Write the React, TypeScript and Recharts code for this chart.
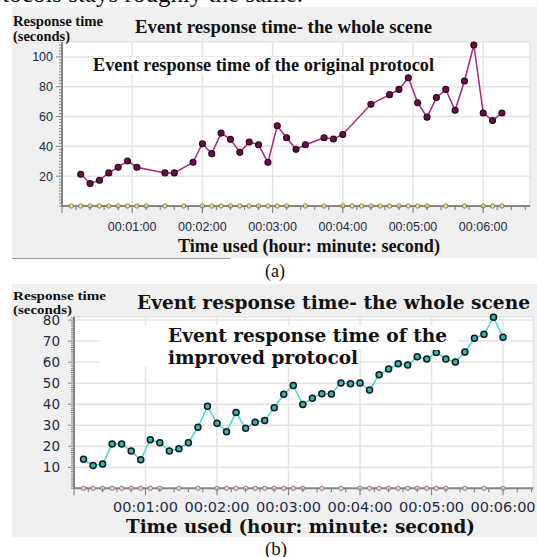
import { CartesianGrid, Line, LineChart, XAxis, YAxis } from "recharts";

// (a) original protocol: seconds elapsed / response time (s)
const secondsA = [16, 24, 32, 40, 48, 56, 64, 88, 96, 112, 120, 128, 136, 144, 152, 160, 168, 176, 184, 192, 200, 208, 224, 232, 240, 264, 280, 288, 296, 304, 312, 320, 328, 336, 344, 352, 360, 368, 376];
const responseA = [21.3, 15.1, 17.3, 22.2, 26, 30.2, 26, 22.2, 22.2, 29.3, 41.8, 35.1, 48.9, 44.7, 36, 42.9, 41.1, 29.3, 53.8, 45.8, 38, 41.1, 45.8, 44.9, 48, 68.2, 74.7, 78.2, 86, 69.3, 59.6, 72.7, 78.2, 64.2, 83.8, 108, 62.4, 57.3, 62.4];

// (b) improved protocol
const secondsB = [8, 16, 24, 32, 40, 48, 56, 64, 72, 80, 88, 96, 104, 112, 120, 128, 136, 144, 152, 160, 168, 176, 184, 192, 200, 208, 216, 224, 232, 240, 248, 256, 264, 272, 280, 288, 296, 304, 312, 320, 328, 336, 344, 352, 360];
const responseB = [13.8, 10.9, 11.5, 21.1, 21.1, 17.7, 13.6, 23.1, 21.7, 17.7, 18.8, 21.7, 29, 39, 30.9, 26.9, 36.1, 28.5, 31.4, 32.3, 38.3, 44.7, 48.9, 39.9, 42.8, 45, 44.8, 50.1, 49.7, 50.1, 46.7, 54, 56.7, 59.2, 58.6, 62.6, 61.5, 64.6, 61.5, 60, 64.8, 71.3, 73.2, 81.3, 71.8];

// second series sitting on the time axis (value 0)
const axisSecondsA = [8, 16, 24, 32, 40, 48, 56, 64, 72, 88, 104, 120, 128, 136, 144, 152, 160, 168, 176, 184, 192, 208, 224, 240, 248, 256, 264, 272, 280, 288, 296, 304, 312, 328, 344, 360, 368, 376];
const axisSecondsB = [8, 16, 24, 32, 40, 48, 56, 64, 72, 88, 104, 120, 128, 136, 144, 152, 160, 168, 176, 184, 192, 208, 224, 240, 248, 256, 264, 272, 280, 288, 296, 304, 312, 328, 344, 360];

const minuteSeconds = [60, 120, 180, 240, 300, 360];
const minuteLabels = ["00:01:00", "00:02:00", "00:03:00", "00:04:00", "00:05:00", "00:06:00"];
const gridA = [20, 40, 60, 80, 100];
const gridB = [10, 20, 30, 40, 50, 60, 70, 80];

const rowsA = secondsA.map((t, i) => ({ t, v: responseA[i] }));
const rowsB = secondsB.map((t, i) => ({ t, v: responseB[i] }));
const zeroA = axisSecondsA.map((t) => ({ t, v: 0 }));
const zeroB = axisSecondsB.map((t) => ({ t, v: 0 }));

const steps = (step: number, max: number) => Array.from({ length: Math.floor(max / step) + 1 }, (_, i) => i * step);

const tickColor = "#1c2a48";
const axisColor = "#858585";

function timeTick(font: string, size: number, gap: number) {
  return (p: any) => {
    const v = p.payload.value;
    const i = minuteSeconds.indexOf(v);
    const major = v % 60 === 0;
    return (
      <g>
        <line x1={p.x} x2={p.x} y1={p.y} y2={p.y + (major ? 7 : 4)} stroke={axisColor} strokeWidth={1.2} />
        {i >= 0 && (
          <text x={p.x} y={p.y + gap} textAnchor="middle" fontFamily={font} fontSize={size} fill={tickColor}>
            {minuteLabels[i]}
          </text>
        )}
      </g>
    );
  };
}

function valueTick(labels: number[], font: string, size: number, gap: number) {
  return (p: any) => {
    const v = p.payload.value;
    const major = labels.includes(v);
    return (
      <g>
        <line x1={p.x} x2={p.x - (major ? 6 : 3)} y1={p.y} y2={p.y} stroke={axisColor} strokeWidth={1} />
        {major && (
          <text x={p.x - gap} y={p.y + size * 0.36} textAnchor="end" fontFamily={font} fontSize={size} fill={tickColor}>
            {v}
          </text>
        )}
      </g>
    );
  };
}

const serif = "Liberation Serif";
const wide = "DejaVu Serif";

export default function App() {
  return (
    <div style={{ position: "absolute", left: 0, top: 0, width: 537, height: 557, background: "#fff", overflow: "hidden" }}>
      <div style={{ position: "absolute", left: 12, top: 7, width: 525, height: 251, background: "#f0f0f0" }} />
      <div style={{ position: "absolute", left: 12, top: 258, width: 218, height: 1, background: "#9a9a9a" }} />
      <div style={{ position: "absolute", left: 12, top: 284, width: 525, height: 253, background: "#f0f0f0" }} />

      <div style={{ position: "absolute", left: 0, top: 0 }}>
        <LineChart width={537} height={260} margin={{ top: 42, right: 7, bottom: 0, left: 0 }}>
          <CartesianGrid stroke="#e3e3e3" strokeWidth={1.5} fill="#fff" horizontalValues={[...gridA, 110]} verticalValues={[...minuteSeconds, 400]} />
          <XAxis type="number" dataKey="t" domain={[0, 400]} ticks={steps(12, 400)} interval={0} height={54} tickSize={0} tickMargin={0} tickLine={false} axisLine={{ stroke: axisColor, strokeWidth: 2 }} tick={timeTick("Liberation Sans", 12.5, 24.7)} />
          <YAxis type="number" domain={[0, 110]} ticks={steps(2, 108)} interval={0} width={62} tickSize={0} tickMargin={0} tickLine={false} axisLine={{ stroke: axisColor, strokeWidth: 2 }} tick={valueTick(gridA, "Liberation Sans", 12.5, 9)} />
          <Line data={zeroA} dataKey="v" stroke="none" dot={{ r: 2.2, fill: "#ece27a", stroke: "#6f6a4a", strokeWidth: 0.8 }} isAnimationActive={false} />
          <Line data={rowsA} dataKey="v" stroke="#a8287a" strokeWidth={1.5} dot={{ r: 3, fill: "#6e0c48", stroke: "#22081a", strokeWidth: 1.1 }} isAnimationActive={false} />
        </LineChart>
      </div>

      <div style={{ position: "absolute", left: 0, top: 280 }}>
        <LineChart width={537} height={260} margin={{ top: 36.7, right: 3.7, bottom: 0, left: 0 }}>
          <CartesianGrid stroke="#e3e3e3" strokeWidth={1.5} fill="#fff" horizontalValues={[...gridB, 81.6]} verticalValues={[...minuteSeconds, 385.4]} />
          <XAxis type="number" dataKey="t" domain={[0, 385.4]} ticks={steps(12, 385)} interval={0} height={51.7} tickSize={0} tickMargin={0} tickLine={false} axisLine={{ stroke: axisColor, strokeWidth: 2 }} tick={timeTick("DejaVu Sans", 14.5, 23.7)} />
          <YAxis type="number" domain={[0, 81.6]} ticks={steps(1, 81)} interval={0} width={74} tickSize={0} tickMargin={0} tickLine={false} axisLine={{ stroke: axisColor, strokeWidth: 2 }} tick={valueTick(gridB, "DejaVu Sans", 13.5, 14)} />
          <Line data={zeroB} dataKey="v" stroke="none" dot={{ r: 2.2, fill: "#f2cccc", stroke: "#707070", strokeWidth: 0.8 }} isAnimationActive={false} />
          <Line data={rowsB} dataKey="v" stroke="#44d8d8" strokeWidth={1.5} dot={{ r: 3, fill: "#30b6b6", stroke: "#151515", strokeWidth: 1.5 }} isAnimationActive={false} />
        </LineChart>
      </div>

      <svg width={537} height={557} style={{ position: "absolute", left: 0, top: 0, pointerEvents: "none" }}>
        <text x={303} y={2} textAnchor="end" fontFamily={serif} fontSize={25} fill="#111">protocols stays roughly the same.</text>

        <text x={13} y={26} fontFamily={serif} fontWeight="bold" fontSize={14.5} textLength={90} lengthAdjust="spacingAndGlyphs" fill="#111">Response time</text>
        <text x={13} y={41} fontFamily={serif} fontWeight="bold" fontSize={14.5} textLength={57} lengthAdjust="spacingAndGlyphs" fill="#111">(seconds)</text>
        <text x={135} y={33} fontFamily={serif} fontWeight="bold" fontSize={19} textLength={297} lengthAdjust="spacingAndGlyphs" fill="#111">Event response time- the whole scene</text>
        <rect x={90} y={57} width={347} height={16.5} fill="#fff" />
        <text x={93} y={71} fontFamily={serif} fontWeight="bold" fontSize={18.5} textLength={341} lengthAdjust="spacingAndGlyphs" fill="#111">Event response time of the original protocol</text>
        <text x={178} y={252} fontFamily={serif} fontWeight="bold" fontSize={18} textLength={262} lengthAdjust="spacingAndGlyphs" fill="#111">Time used (hour: minute: second)</text>
        <text x={275} y={277} textAnchor="middle" fontFamily={serif} fontSize={18} fill="#111">(a)</text>

        <text x={13} y={300} fontFamily={serif} fontWeight="bold" fontSize={12} textLength={93} lengthAdjust="spacingAndGlyphs" fill="#111">Response time</text>
        <text x={13} y={314} fontFamily={serif} fontWeight="bold" fontSize={12} textLength={59} lengthAdjust="spacingAndGlyphs" fill="#111">(seconds)</text>
        <text x={137} y={308.5} fontFamily={wide} fontWeight="bold" fontSize={18} textLength={393} lengthAdjust="spacingAndGlyphs" fill="#111">Event response time- the whole scene</text>
        <rect x={100} y={325} width={358} height={25} fill="#fff" />
        <rect x={100} y={350} width={260} height={17} fill="#fff" />
        <text x={168} y={342} fontFamily={wide} fontWeight="bold" fontSize={18} textLength={279} lengthAdjust="spacingAndGlyphs" fill="#111">Event response time of the</text>
        <text x={168} y={363.5} fontFamily={wide} fontWeight="bold" fontSize={18} textLength={190} lengthAdjust="spacingAndGlyphs" fill="#111">improved protocol</text>
        <text x={126} y={533} fontFamily={wide} fontWeight="bold" fontSize={18} textLength={349} lengthAdjust="spacingAndGlyphs" fill="#111">Time used (hour: minute: second)</text>
        <text x={276} y={555} textAnchor="middle" fontFamily={serif} fontSize={19} fill="#111">(b)</text>
      </svg>
    </div>
  );
}
